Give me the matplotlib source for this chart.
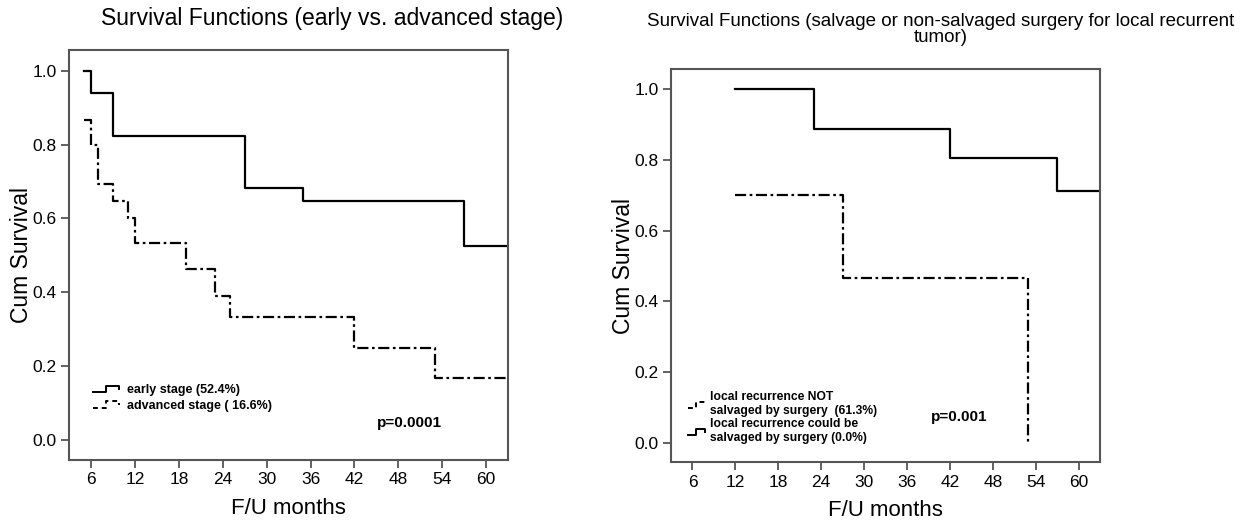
import numpy as np
import matplotlib
matplotlib.use("Agg")
import matplotlib.pyplot as plt
from matplotlib.lines import Line2D
from matplotlib.legend_handler import HandlerBase

plt.rcParams['font.family'] = ['Liberation Sans', 'DejaVu Sans']

# left chart: early vs. advanced stage
early_t = [5, 6, 9, 27, 35, 57, 63]
early_s = [1.0, 0.941, 0.824, 0.682, 0.647, 0.524]
adv_t = [5, 6, 7, 9, 11, 12, 19, 23, 25, 42, 53, 63]
adv_s = [0.867, 0.800, 0.693, 0.647, 0.600, 0.533, 0.462, 0.390, 0.333, 0.250, 0.166]

# right chart: salvage surgery or not
salv_t = [12, 23, 42, 57, 63]
salv_s = [1.0, 0.889, 0.807, 0.711]
nosalv_t = [12, 27, 53]
nosalv_s = [0.70, 0.467, 0.0]

xticks = [6, 12, 18, 24, 30, 36, 42, 48, 54, 60]
yticks = [0.0, 0.2, 0.4, 0.6, 0.8, 1.0]

left_legend = ['early stage (52.4%)', 'advanced stage ( 16.6%)']
right_legend = ['local recurrence NOT\nsalvaged by surgery  (61.3%)',
                'local recurrence could be\nsalvaged by surgery (0.0%)']

SOLID = '-'
DASHDOT = (0, (5, 1.6, 1.2, 1.6))
SPINE = '#555555'


class StepHandler(HandlerBase):
    def create_artists(self, legend, orig_handle, xdescent, ydescent,
                       width, height, fontsize, trans):
        xs = np.array([0, 0.45, 0.45, 0.92, 0.92]) * width - xdescent
        ys = np.array([0.1, 0.1, 0.85, 0.85, 0.45]) * height - ydescent
        ln = Line2D(xs, ys)
        ln.update_from(orig_handle)
        ln.set_data(xs, ys)
        ln.set_transform(trans)
        return [ln]


def km(ax, t, s, ls, extend=True):
    y = list(s) + [s[-1]] if extend else list(s)
    ax.step(t, y, where='post', color='black', lw=1.6, linestyle=ls)


def style(ax):
    ax.set_xlim(3, 63)
    ax.set_ylim(-0.055, 1.057)
    ax.set_xticks(xticks)
    ax.set_yticks(yticks)
    ax.set_yticklabels(['%.1f' % v for v in yticks])
    for sp in ax.spines.values():
        sp.set_color(SPINE)
        sp.set_linewidth(1.5)
    ax.tick_params(direction='out', length=6, width=1.3, color=SPINE,
                   labelsize=12.5, pad=3)
    ax.set_xlabel('F/U months', fontsize=16)
    ax.set_ylabel('Cum Survival', fontsize=16.5)


fig = plt.figure(figsize=(12.58, 5.23), dpi=100)

ax1 = fig.add_axes([0.0549, 0.1205, 0.349, 0.784])
km(ax1, early_t, early_s, SOLID)
km(ax1, adv_t, adv_s, DASHDOT)
style(ax1)
ax1.xaxis.set_label_coords(0.5, -0.092)
ax1.yaxis.set_label_coords(-0.082, 0.5)
h1 = [Line2D([], [], color='black', lw=1.4, linestyle=SOLID),
      Line2D([], [], color='black', lw=1.4, linestyle=(0, (2.5, 2)))]
ax1.legend(h1, left_legend, handler_map={Line2D: StepHandler()},
           loc='upper left', bbox_to_anchor=(0.055, 0.185), frameon=False,
           prop={'size': 9, 'weight': 'bold'}, handlelength=2.2,
           handletextpad=0.5, labelspacing=0.3, borderpad=0, borderaxespad=0)
ax1.text(49.5, 0.046, 'p=0.0001', fontsize=11, fontweight='bold',
         ha='center', va='center')

ax2 = fig.add_axes([0.5334, 0.1166, 0.341, 0.751])
km(ax2, salv_t, salv_s, SOLID)
km(ax2, nosalv_t, nosalv_s, DASHDOT, extend=False)
style(ax2)
ax2.xaxis.set_label_coords(0.5, -0.097)
ax2.yaxis.set_label_coords(-0.085, 0.5)
h2 = [Line2D([], [], color='black', lw=1.4, linestyle=(0, (2.5, 2))),
      Line2D([], [], color='black', lw=1.4, linestyle=SOLID)]
ax2.legend(h2, right_legend, handler_map={Line2D: StepHandler()},
           loc='upper left', bbox_to_anchor=(0.04, 0.18), frameon=False,
           prop={'size': 8.7, 'weight': 'bold'}, handlelength=1.5,
           handletextpad=0.3, labelspacing=0.1, borderpad=0, borderaxespad=0)
ax2.text(43.3, 0.073, 'p=0.001', fontsize=11, fontweight='bold',
         ha='center', va='center')

fig.text(0.264, 0.964, 'Survival Functions (early vs. advanced stage)',
         fontsize=16.5, ha='center', va='center')
fig.text(0.748, 0.943,
         'Survival Functions (salvage or non-salvaged surgery for local recurrent\ntumor)',
         fontsize=13.5, ha='center', va='center', linespacing=0.95)

fig.savefig('out.png', dpi=100)
